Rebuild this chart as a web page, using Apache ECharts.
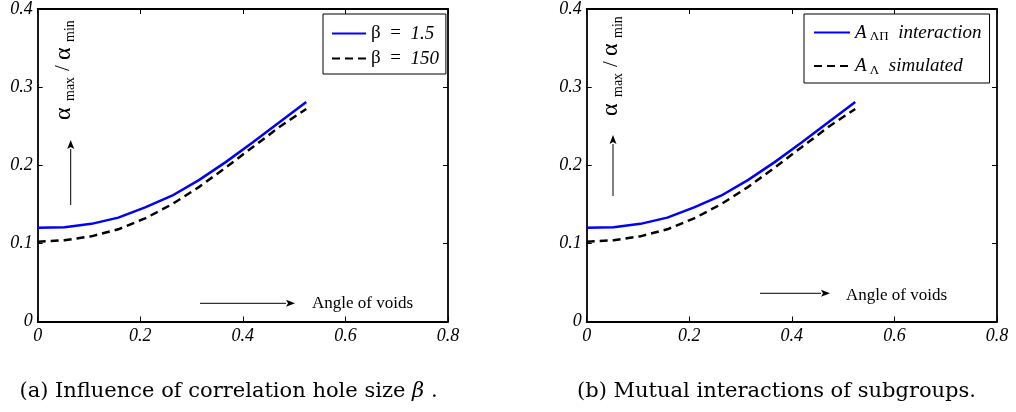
<!DOCTYPE html>
<html>
<head>
<meta charset="utf-8">
<script src="https://cdn.jsdelivr.net/npm/echarts@6/dist/echarts.min.js"></script>
<style>html,body{margin:0;padding:0;background:#fff;}#c{width:1016px;height:412px;}</style>
</head>
<body>
<div id="c"></div>
<script>
// ---- data ----
const angles = [0, 0.0524, 0.1047, 0.1571, 0.2094, 0.2618, 0.3142, 0.3665, 0.4189, 0.4712, 0.5236];
const ratioBeta15 = [0.120, 0.1205, 0.125, 0.133, 0.146, 0.161, 0.181, 0.204, 0.229, 0.255, 0.281];
const ratioBeta150 = [0.102, 0.104, 0.109, 0.118, 0.132, 0.150, 0.172, 0.197, 0.223, 0.249, 0.272];
const ratioInteraction = [0.120, 0.1205, 0.125, 0.133, 0.146, 0.161, 0.181, 0.204, 0.229, 0.255, 0.281];
const ratioSimulated = [0.102, 0.104, 0.109, 0.118, 0.132, 0.150, 0.172, 0.197, 0.223, 0.249, 0.272];
const xTickLabels = ['0', '0.2', '0.4', '0.6', '0.8'];
const yTickLabels = ['0', '0.1', '0.2', '0.3', '0.4'];
const seriesNames = ['β = 1.5', 'β = 150', 'A_ΛΠ interaction', 'A_Λ simulated'];
const captionA = 'Influence of correlation hole size';
const captionB = '(b) Mutual interactions of subgroups.';
const xTitle = 'Angle of voids';

const pair = (xs, ys) => xs.map((x, i) => [x, ys[i]]);
const SERIF = 'Liberation Serif';
const tickFont = { fontFamily: SERIF, fontStyle: 'italic', fontSize: 18, color: '#000' };
const AX = { show: true, onZero: false, lineStyle: { color: '#000', width: 1.8 } };
const TK = { show: true, inside: true, length: 5, lineStyle: { color: '#000', width: 1 } };

function xAxes(gridIndex) {
  return [
    { type: 'value', gridIndex, min: 0, max: 0.8, interval: 0.2, position: 'bottom',
      axisLine: AX, axisTick: TK,
      axisLabel: Object.assign({ margin: 6, formatter: (v) => xTickLabels[Math.round(v / 0.2)] }, tickFont),
      splitLine: { show: false } },
    { type: 'value', gridIndex, min: 0, max: 0.8, interval: 0.2, position: 'top',
      axisLine: AX, axisTick: TK, axisLabel: { show: false }, splitLine: { show: false } }
  ];
}
function yAxes(gridIndex) {
  return [
    { type: 'value', gridIndex, min: 0, max: 0.4, interval: 0.1, position: 'left',
      axisLine: AX, axisTick: TK,
      axisLabel: Object.assign({ margin: 5, formatter: (v) => yTickLabels[Math.round(v / 0.1)] }, tickFont),
      splitLine: { show: false } },
    { type: 'value', gridIndex, min: 0, max: 0.4, interval: 0.1, position: 'right',
      axisLine: AX, axisTick: TK, axisLabel: { show: false }, splitLine: { show: false } }
  ];
}

function lineSeries(name, xi, ys, color, dashed) {
  return {
    name, type: 'line', xAxisIndex: xi, yAxisIndex: xi, data: pair(angles, ys),
    symbol: 'none', showSymbol: false, smooth: false, animation: false,
    lineStyle: { color, width: 2.5, type: dashed ? [8, 5] : 'solid' },
    itemStyle: { color }
  };
}

const legendRich = {
  u: { fontFamily: SERIF, fontSize: 19, lineHeight: 22, color: '#000' },
  i: { fontFamily: SERIF, fontStyle: 'italic', fontSize: 19, lineHeight: 22, color: '#000' },
  s: { fontFamily: SERIF, fontSize: 13, lineHeight: 14, verticalAlign: 'bottom', color: '#000' }
};
const legendFmt = {
  'β = 1.5': '{u|β  =  }{i|1.5}',
  'β = 150': '{u|β  =  }{i|150}',
  'A_ΛΠ interaction': '{i|A}{s| ΛΠ}{i|  interaction}',
  'A_Λ simulated': '{i|A}{s| Λ}{i|  simulated}'
};

function arrow(x1, y1, x2, y2) {
  const dx = x2 - x1, dy = y2 - y1, L = Math.hypot(dx, dy);
  const ux = dx / L, uy = dy / L, hl = 9, hw = 3.5;
  const bx = x2 - ux * hl, by = y2 - uy * hl;
  return [
    { type: 'line', shape: { x1, y1, x2: bx, y2: by }, style: { stroke: '#000', lineWidth: 1 } },
    { type: 'polygon', shape: { points: [[x2, y2], [bx - uy * hw, by + ux * hw], [bx + ux * 2, by + uy * 2], [bx + uy * hw, by - ux * hw]] },
      style: { fill: '#000' } }
  ];
}

function yLabel(x, y) {
  const t = (text, lx, ly, size) => ({ type: 'text', x: lx, y: ly,
    style: { text, fontFamily: SERIF, fontSize: size, fill: '#000', align: 'left', verticalAlign: 'middle' } });
  return { type: 'group', x, y, rotation: Math.PI / 2, children: [
    t('α', 0, 0, 24), t('max', 19, 7, 14), t('/', 49, 0, 21), t('α', 60, 0, 24), t('min', 78, 7, 14)
  ] };
}

const captionRich = {
  n: { fontFamily: 'DejaVu Serif', fontSize: 21, color: '#111' },
  b: { fontFamily: 'DejaVu Serif', fontStyle: 'italic', fontSize: 21, color: '#111' }
};

const graphics = [].concat(
  arrow(70.7, 205, 70.7, 140),
  arrow(200, 303.3, 295, 303.3),
  arrow(613, 196, 613, 135),
  arrow(760, 293.3, 830, 293.3),
  [
    yLabel(63.5, 120),
    yLabel(611, 116),
    { type: 'text', x: 312, y: 304, style: { text: xTitle, fontFamily: SERIF, fontSize: 17, fill: '#000', verticalAlign: 'middle' } },
    { type: 'text', x: 846, y: 296, style: { text: xTitle, fontFamily: SERIF, fontSize: 17, fill: '#000', verticalAlign: 'middle' } },
    { type: 'text', x: 228.5, y: 392, style: {
        text: '{n|(a) ' + captionA + ' }{b|β}{n| .}', align: 'center', verticalAlign: 'middle', rich: captionRich } },
    { type: 'text', x: 776.5, y: 392, style: {
        text: '{n|' + captionB + '}', align: 'center', verticalAlign: 'middle', rich: captionRich } }
  ]
);

const chart = echarts.init(document.getElementById('c'), null, { renderer: 'canvas' });
chart.setOption({
  animation: false,
  backgroundColor: '#fff',
  grid: [
    { left: 37.7, right: 568, top: 9, bottom: 90.5 },
    { left: 586.7, right: 19, top: 9, bottom: 90.5 }
  ],
  xAxis: xAxes(0).concat(xAxes(1)),
  yAxis: yAxes(0).concat(yAxes(1)),
  legend: [
    { data: [seriesNames[0], seriesNames[1]], orient: 'vertical', left: 323, top: 14, padding: [10, 7, 6, 8],
      itemWidth: 34, itemHeight: 14, itemGap: 6, borderColor: '#000', borderWidth: 1, backgroundColor: '#fff',
      itemStyle: { opacity: 0 },
      formatter: n => legendFmt[n], textStyle: { rich: legendRich } },
    { data: [seriesNames[2], seriesNames[3]], orient: 'vertical', left: 804, top: 14, padding: [9, 8, 6, 9],
      itemWidth: 36, itemHeight: 14, itemGap: 13, borderColor: '#000', borderWidth: 1, backgroundColor: '#fff',
      itemStyle: { opacity: 0 },
      formatter: n => legendFmt[n], textStyle: { rich: legendRich } }
  ],
  series: [
    lineSeries(seriesNames[0], 0, ratioBeta15, '#0000ff', false),
    lineSeries(seriesNames[1], 0, ratioBeta150, '#000000', true),
    lineSeries(seriesNames[2], 2, ratioInteraction, '#0000ff', false),
    lineSeries(seriesNames[3], 2, ratioSimulated, '#000000', true)
  ],
  graphic: graphics
});
</script>
</body>
</html>
